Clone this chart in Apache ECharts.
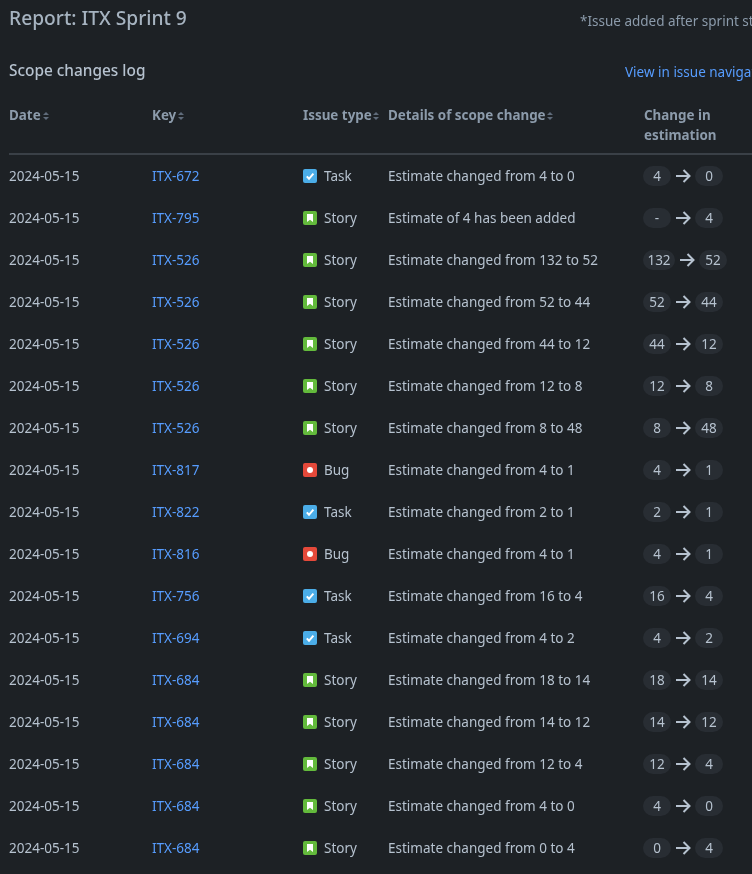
<!DOCTYPE html>
<html>
<head>
<meta charset="utf-8">
<style>
    html, body { margin: 0; padding: 0; background: #1d2125; overflow: hidden; }
    #chart { width: 752px; height: 874px; }
</style>
<script src="https://cdn.jsdelivr.net/npm/echarts@6/dist/echarts.min.js"></script>
</head>
<body>
<div id="chart"></div>
<script>
const dates = Array(17).fill('2024-05-15');
const keys = ['ITX-672', 'ITX-795', 'ITX-526', 'ITX-526', 'ITX-526', 'ITX-526', 'ITX-526', 'ITX-817', 'ITX-822',
    'ITX-816', 'ITX-756', 'ITX-694', 'ITX-684', 'ITX-684', 'ITX-684', 'ITX-684', 'ITX-684'];
const types = ['Task', 'Story', 'Story', 'Story', 'Story', 'Story', 'Story', 'Bug', 'Task',
    'Bug', 'Task', 'Task', 'Story', 'Story', 'Story', 'Story', 'Story'];
const details = [
    'Estimate changed from 4 to 0',
    'Estimate of 4 has been added',
    'Estimate changed from 132 to 52',
    'Estimate changed from 52 to 44',
    'Estimate changed from 44 to 12',
    'Estimate changed from 12 to 8',
    'Estimate changed from 8 to 48',
    'Estimate changed from 4 to 1',
    'Estimate changed from 2 to 1',
    'Estimate changed from 4 to 1',
    'Estimate changed from 16 to 4',
    'Estimate changed from 4 to 2',
    'Estimate changed from 18 to 14',
    'Estimate changed from 14 to 12',
    'Estimate changed from 12 to 4',
    'Estimate changed from 4 to 0',
    'Estimate changed from 0 to 4'
];
const fromValues = ['4', '-', '132', '52', '44', '12', '8', '4', '2', '4', '16', '4', '18', '14', '12', '4', '0'];
const toValues = ['0', '4', '52', '44', '12', '8', '48', '1', '1', '1', '4', '2', '14', '12', '4', '0', '4'];
const headers = ['Date', 'Key', 'Issue type', 'Details of scope change'];

const FONT = '"Noto Sans", sans-serif';
const TEXT = '#b6c2cf';
const SUBTLE = '#8c9bab';
const LINK = '#579dff';
const ICON = { Task: '#4bade8', Story: '#63ba3c', Bug: '#e5493a' };

const headerX = [9, 152, 303, 388];
const sortX = [46, 181, 376, 550];

function textSeries(x, values, color) {
    return {
        type: 'custom',
        data: values.map((v, i) => [x, i, v]),
        encode: { x: 0, y: 1 },
        renderItem: (params, api) => {
            const p = api.coord([api.value(0), api.value(1)]);
            return {
                type: 'text',
                style: { x: p[0], y: p[1] + 1, text: values[params.dataIndex], fill: color, font: `13.5px ${FONT}`, textVerticalAlign: 'middle' }
            };
        }
    };
}

function iconGlyph(type) {
    if (type === 'Task') {
        return { type: 'polyline', shape: { points: [[3.8, 7.4], [6, 9.8], [10.4, 4.6]] }, style: { stroke: '#fff', lineWidth: 2, fill: null } };
    }
    if (type === 'Story') {
        return { type: 'polygon', shape: { points: [[4, 3], [10, 3], [10, 11], [7, 8.8], [4, 11]] }, style: { fill: '#fff' } };
    }
    return { type: 'circle', shape: { cx: 7, cy: 7, r: 3 }, style: { fill: '#fff' } };
}

function iconSeries(x) {
    return {
        type: 'custom',
        data: types.map((t, i) => [x, i]),
        encode: { x: 0, y: 1 },
        renderItem: (params, api) => {
            const p = api.coord([api.value(0), api.value(1)]);
            const t = types[params.dataIndex];
            return {
                type: 'group',
                x: p[0],
                y: p[1] - 7,
                children: [
                    { type: 'rect', shape: { x: 0, y: 0, width: 14, height: 14, r: 2 }, style: { fill: ICON[t] } },
                    iconGlyph(t)
                ]
            };
        }
    };
}

function pill(x, y, label) {
    const w = label.length > 2 ? 32 : 28;
    return {
        width: w,
        els: [
            { type: 'rect', shape: { x: x, y: y - 10, width: w, height: 20, r: 10 }, style: { fill: '#282d33' } },
            { type: 'text', style: { x: x + w / 2, y: y + 1, text: label, fill: TEXT, font: `13.5px ${FONT}`, textAlign: 'center', textVerticalAlign: 'middle' } }
        ]
    };
}

function changeSeries(x) {
    return {
        type: 'custom',
        data: fromValues.map((v, i) => [x, i]),
        encode: { x: 0, y: 1 },
        renderItem: (params, api) => {
            const p = api.coord([api.value(0), api.value(1)]);
            const a = pill(p[0], p[1], fromValues[params.dataIndex]);
            const ax = p[0] + a.width + 5;
            const b = pill(ax + 19, p[1], toValues[params.dataIndex]);
            const arrow = [
                { type: 'line', shape: { x1: ax, y1: p[1], x2: ax + 13, y2: p[1] }, style: { stroke: TEXT, lineWidth: 2 } },
                { type: 'polyline', shape: { points: [[ax + 7.5, p[1] - 6], [ax + 13.5, p[1]], [ax + 7.5, p[1] + 6]] }, style: { stroke: TEXT, lineWidth: 2, fill: null } }
            ];
            return { type: 'group', children: a.els.concat(arrow, b.els) };
        }
    };
}

function sortIcon(x) {
    return [
        { type: 'polygon', shape: { points: [[x - 3, 115], [x + 3, 115], [x, 112]] }, style: { fill: '#5f6b7a' } },
        { type: 'polygon', shape: { points: [[x - 3, 117], [x + 3, 117], [x, 120]] }, style: { fill: '#5f6b7a' } }
    ];
}

function label(x, y, text, fill, font) {
    return { type: 'text', x: x, y: y, style: { text: text, fill: fill, font: font, textVerticalAlign: 'middle' } };
}

const graphics = [
    label(9, 20, 'Report: ITX Sprint 9', '#a6b3c0', `500 19.2px ${FONT}`),
    label(580, 22, '*Issue added after sprint start', SUBTLE, `13.5px ${FONT}`),
    label(9, 72, 'Scope changes log', '#b6c2cf', `500 15.4px ${FONT}`),
    label(625, 73, 'View in issue navigator', LINK, `13.5px ${FONT}`),
    label(644, 116, 'Change in', SUBTLE, `bold 13.4px ${FONT}`),
    label(644, 136, 'estimation', SUBTLE, `bold 13.4px ${FONT}`),
    { type: 'rect', shape: { x: 9, y: 153, width: 743, height: 2 }, style: { fill: '#3a4047' } }
];
headers.forEach((h, i) => {
    graphics.push(label(headerX[i], 116, h, SUBTLE, `bold 13.4px ${FONT}`));
    graphics.push(...sortIcon(sortX[i]));
});

const chart = echarts.init(document.getElementById('chart'), null, { renderer: 'canvas' });
chart.setOption({
    backgroundColor: '#1d2125',
    animation: false,
    grid: { left: 0, right: 0, top: 155, height: 714 },
    xAxis: { type: 'value', min: 0, max: 752, show: false },
    yAxis: { type: 'category', data: keys.map((k, i) => i), inverse: true, show: false },
    graphic: graphics,
    series: [
        textSeries(9, dates, TEXT),
        textSeries(152, keys, LINK),
        iconSeries(303),
        textSeries(324, types, TEXT),
        textSeries(388, details, TEXT),
        changeSeries(643)
    ]
});
</script>
</body>
</html>
